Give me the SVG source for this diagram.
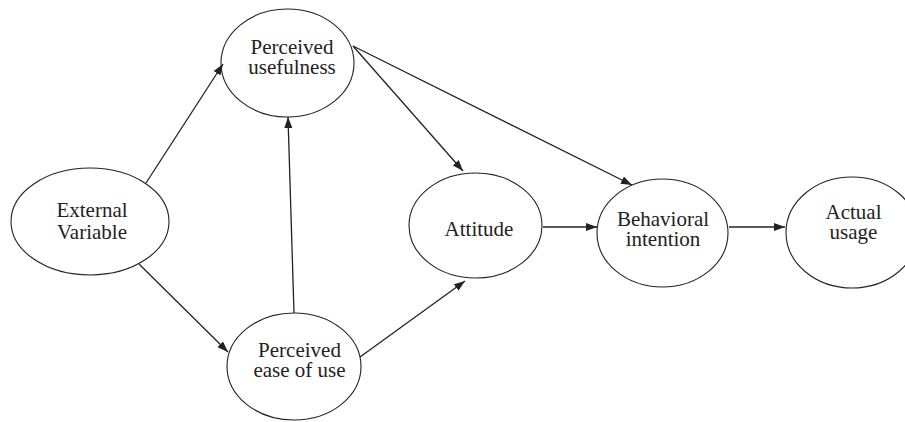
<svg xmlns="http://www.w3.org/2000/svg" width="905" height="422" viewBox="0 0 905 422">
<style>
.node ellipse{fill:#fff;stroke:#222;stroke-width:1.1}
.node text{font-family:'Liberation Serif','Times New Roman',Tinos,'DejaVu Serif',serif;font-size:21px;fill:#222;text-anchor:middle}
.edges line{stroke:#222;stroke-width:1.3;marker-end:url(#ah)}
</style>
<defs>
<marker id="ah" markerUnits="userSpaceOnUse" markerWidth="11" markerHeight="8" refX="11" refY="4" orient="auto">
<path d="M0,0 L11,4 L0,8 z" fill="#222"/>
</marker>
</defs>
<rect width="905" height="422" fill="#fff"/>
<g id="external-variable" class="node">
<ellipse cx="90" cy="221.5" rx="79" ry="53.5"/>
<text x="92" y="217" font-family="Liberation Serif, serif">External</text>
<text x="92" y="239" font-family="Liberation Serif, serif">Variable</text>
</g>
<g id="perceived-usefulness" class="node">
<ellipse cx="287.5" cy="63" rx="66.5" ry="54"/>
<text x="292" y="54" font-family="Liberation Serif, serif">Perceived</text>
<text x="292" y="74" font-family="Liberation Serif, serif">usefulness</text>
</g>
<g id="perceived-ease-of-use" class="node">
<ellipse cx="294" cy="366.5" rx="67" ry="53.5"/>
<text x="299.5" y="357" font-family="Liberation Serif, serif">Perceived</text>
<text x="299.5" y="377" font-family="Liberation Serif, serif">ease of use</text>
</g>
<g id="attitude" class="node">
<ellipse cx="475.5" cy="225.5" rx="66.5" ry="52.5"/>
<text x="479" y="236" font-family="Liberation Serif, serif">Attitude</text>
</g>
<g id="behavioral-intention" class="node">
<ellipse cx="662.5" cy="233" rx="65.5" ry="54"/>
<text x="663" y="226" font-family="Liberation Serif, serif">Behavioral</text>
<text x="663" y="246" font-family="Liberation Serif, serif">intention</text>
</g>
<g id="actual-usage" class="node">
<ellipse cx="852" cy="232.5" rx="66" ry="55.5"/>
<text x="853.5" y="219" font-family="Liberation Serif, serif">Actual</text>
<text x="853.5" y="239" font-family="Liberation Serif, serif">usage</text>
</g>
<g id="connectors" class="edges">
<line x1="146" y1="183" x2="223" y2="64"/>
<line x1="139" y1="264" x2="228" y2="352"/>
<line x1="294" y1="313" x2="288" y2="117"/>
<line x1="353" y1="46" x2="463" y2="171"/>
<line x1="353" y1="46" x2="632" y2="185"/>
<line x1="360" y1="357" x2="465" y2="281"/>
<line x1="543" y1="227" x2="597" y2="227"/>
<line x1="729" y1="227" x2="785" y2="227"/>
</g>
</svg>
